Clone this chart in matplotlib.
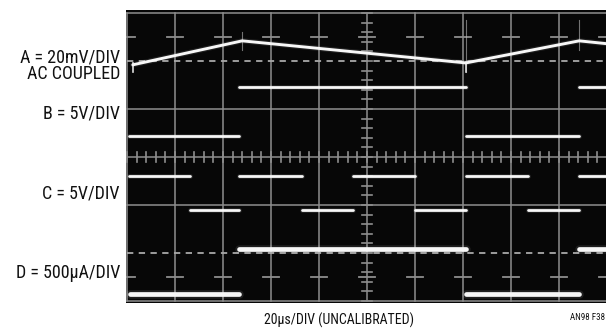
import matplotlib
matplotlib.use('Agg')
import matplotlib.pyplot as plt
import numpy as np

# scope traces, in graticule divisions (x: 0..10, y: 0..6 from bottom)
A_X = [0.12, 2.40, 7.06, 9.42, 10.0]
A_Y = [4.92, 5.42, 4.96, 5.42, 5.36]
A_SPIKE_X = [0.12, 7.06]
A_SPIKE_Y = [(4.96, 4.77), (4.98, 4.77)]
GLITCH_X = [2.40, 7.06, 9.42]
GLITCH_Y = [(5.23, 5.60), (4.77, 5.85), (5.23, 5.85)]

B_EDGES = [0.04, 2.33, 7.06, 9.42, 10.0]
B_LEVELS = [3.44, 4.46, 3.44, 4.46]

C_EDGES = [0.04, 1.31, 2.33, 3.65, 4.71, 6.00, 7.06, 8.35, 9.42, 10.0]
C_LEVELS = [2.60, 1.90, 2.60, 1.90, 2.60, 1.90, 2.60, 1.90, 2.60]

D_EDGES = [0.06, 2.33, 7.06, 9.42, 10.0]
D_LEVELS = [0.15, 1.08, 0.15, 1.08]

CH_LABELS = ["A = 20mV/DIV", "AC COUPLED", "B = 5V/DIV", "C = 5V/DIV", "D = 500\u00b5A/DIV"]
CH_BASELINES = [62, 79, 119, 199, 278]   # pixel rows
X_LABEL = "20\u00b5s/DIV (UNCALIBRATED)"
FIG_ID = "AN98 F38"

W, H = 606, 328
FONT = ['Roboto Condensed', 'Liberation Sans Narrow', 'Liberation Sans', 'DejaVu Sans']

fig = plt.figure(figsize=(W / 100, H / 100), dpi=100)
fig.patch.set_facecolor('white')

# screen: x=0 at px 127, 48 px/div; y=0 at px 301
left_px, right_px, top_px, bot_px = 126, 607, 10, 303
ax = fig.add_axes([left_px / W, 1 - bot_px / H, (right_px - left_px) / W, (bot_px - top_px) / H])
ax.set_facecolor('#070707')
ax.set_xlim((left_px - 127) / 48, (right_px - 127) / 48)
ax.set_ylim((301 - bot_px) / 48, (301 - top_px) / 48)
ax.set_xticks([])
ax.set_yticks([])
for s in ax.spines.values():
    s.set_visible(False)

grid = '#8e8e8e'
glw = 1.1
for x in range(0, 10):
    ax.plot([x, x], [0, 6], color=grid, lw=glw)
for y in [0, 2, 3, 4, 6]:
    ax.plot([0, 10], [y, y], color=grid, lw=glw)
for y in [1, 5]:
    ax.plot([0, 10], [y, y], color='#a8a8a8', lw=1.3, dashes=(3.5, 3))
# half-division marks on each vertical line
for y in [0.5, 5.5]:
    for x in range(0, 11):
        ax.plot([x - 0.17, x + 0.17], [y, y], color=grid, lw=1.3)
# minor ticks on centre lines
for t in np.arange(0, 10.01, 0.2):
    ax.plot([t, t], [2.9, 3.1], color=grid, lw=1.2)
for t in np.arange(0, 6.01, 0.2):
    ax.plot([4.9, 5.1], [t, t], color=grid, lw=1.2)


def trace(xs, ys, lw, color='#f7f7f7'):
    ax.plot(xs, ys, color=color, lw=lw * 1.8, alpha=0.1, solid_capstyle='round')
    ax.plot(xs, ys, color=color, lw=lw, solid_capstyle='round')


def steps(edges, levels, lw):
    for i, lev in enumerate(levels):
        trace([edges[i], edges[i + 1]], [lev, lev], lw)


# faint edge glitches
for x, (y0, y1) in zip(GLITCH_X, GLITCH_Y):
    ax.plot([x, x], [y0, y1], color='#bdbdbd', lw=0.8, alpha=0.6)
for x, (y0, y1) in zip(A_SPIKE_X, A_SPIKE_Y):
    ax.plot([x, x], [y0, y1], color='#dddddd', lw=1.2)

trace(A_X, A_Y, 2.1)
steps(B_EDGES, B_LEVELS, 2.0)
steps(C_EDGES, C_LEVELS, 2.0)
steps(D_EDGES, D_LEVELS, 3.4)

for label, base in zip(CH_LABELS, CH_BASELINES):
    fig.text(120 / W, 1 - base / H, label, ha='right', va='baseline',
             fontsize=13, family=FONT, color='#111111')

fig.text(339 / W, 1 - 325 / H, X_LABEL, ha='center', va='baseline',
         fontsize=10, family=FONT, color='#111111')
fig.text(605 / W, 1 - 320 / H, FIG_ID, ha='right', va='baseline',
         fontsize=6.5, family=FONT, color='#111111')

fig.savefig('out.png', dpi=100, facecolor='white')
